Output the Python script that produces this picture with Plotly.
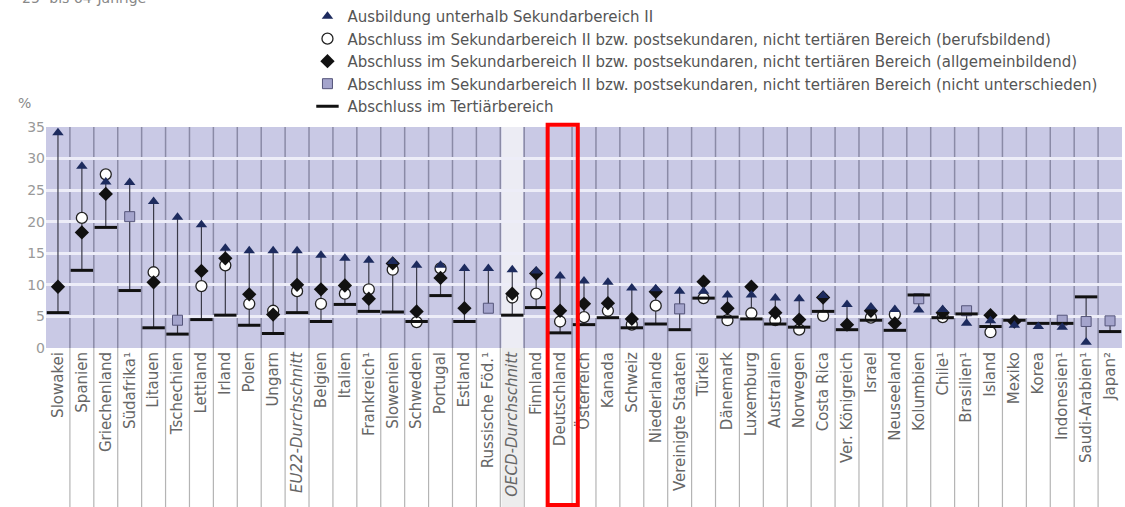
import plotly.graph_objects as go

# Länder / Kategorien (x-Achse)
laender = ['Slowakei', 'Spanien', 'Griechenland', 'Südafrika¹', 'Litauen', 'Tschechien',
           'Lettland', 'Irland', 'Polen', 'Ungarn', 'EU22-Durchschnitt', 'Belgien', 'Italien',
           'Frankreich¹', 'Slowenien', 'Schweden', 'Portugal', 'Estland', 'Russische Föd.¹',
           'OECD-Durchschnitt', 'Finnland', 'Deutschland', 'Österreich', 'Kanada', 'Schweiz',
           'Niederlande', 'Vereinigte Staaten', 'Türkei', 'Dänemark', 'Luxemburg', 'Australien',
           'Norwegen', 'Costa Rica', 'Ver. Königreich', 'Israel', 'Neuseeland', 'Kolumbien',
           'Chile¹', 'Brasilien¹', 'Island', 'Mexiko', 'Korea', 'Indonesien¹', 'Saudi-Arabien¹',
           'Japan²']

# Werte in %
unter_sek2 = [34.1, 28.8, 26.3, 26.2, 23.2, 20.7, 19.5, 15.8, 15.4, 15.4, 15.4, 14.7, 14.2,
              13.9, 13.7, 13.1, 13.1, 12.6, 12.6, 12.4, 12.2, 11.4, 10.6, 10.4, 9.5, 9.4, 9.0,
              9.0, 8.4, 8.4, 7.9, 7.8, 8.3, 6.9, 6.5, 6.1, 6.0, 6.1, 3.9, 4.3, 3.6, 3.4, 3.3,
              0.9, None]
berufsbildend = [None, 20.6, 27.5, None, 12.0, None, 9.8, 13.1, 7.0, 5.9, 9.0, 7.0, 8.6,
                 9.3, 12.4, 4.1, 12.6, None, None, 8.0, 8.6, 4.2, 4.9, 5.9, 3.7, 6.7, None,
                 7.9, 4.4, 5.5, 4.4, 2.9, 5.1, None, 4.8, 5.3, None, 4.9, None, 2.5, None,
                 None, None, None, None]
allgemeinbildend = [9.7, 18.3, 24.4, None, 10.4, None, 12.2, 14.2, 8.5, 5.3, 10.0, 9.3, 9.9,
                    7.8, 13.4, 5.8, 11.1, 6.3, None, 8.6, 11.8, 5.9, 7.0, 7.1, 4.6, 8.9, None,
                    10.5, 6.3, 9.7, 5.6, 4.5, 8.0, 3.7, 5.9, 3.9, None, 5.6, None, 5.2, 4.2,
                    None, None, None, None]
nicht_unterschieden = [None, None, None, 20.8, None, 4.4, None, None, None, None, None, None,
                       None, None, None, None, None, None, 6.3, None, None, None, None, None,
                       None, None, 6.2, None, None, None, None, None, None, None, None, None,
                       7.8, None, 5.9, None, None, None, 4.4, 4.2, 4.3]
tertiaer = [5.6, 12.3, 19.1, 9.1, 3.2, 2.2, 4.5, 5.2, 3.6, 2.3, 5.6, 4.2, 6.9, 5.8, 5.7, 4.2,
            8.3, 4.2, None, 5.2, 6.4, 2.4, 3.7, 4.8, 3.2, 3.8, 2.9, 7.9, 4.9, 4.6, 3.8, 3.3,
            5.8, 2.9, 4.4, 2.8, 8.4, 4.8, 5.4, 3.4, 4.4, 3.9, 3.9, 8.1, 2.6]

y_ticks = [0, 5, 10, 15, 20, 25, 30, 35]

legend_namen = [
    'Ausbildung unterhalb Sekundarbereich II',
    'Abschluss im Sekundarbereich II bzw. postsekundaren, nicht tertiären Bereich (berufsbildend)',
    'Abschluss im Sekundarbereich II bzw. postsekundaren, nicht tertiären Bereich (allgemeinbildend)',
    'Abschluss im Sekundarbereich II bzw. postsekundaren, nicht tertiären Bereich (nicht unterschieden)',
    'Abschluss im Tertiärbereich',
]

FONT = 'DejaVu Sans'
GRAU = '#666666'

# Tick-Beschriftungen (Durchschnitte kursiv)
tick_text = []
for name in laender:
    if 'Durchschnitt' in name:
        tick_text.append(f'<i>{name}</i>')
    else:
        tick_text.append(name)

# Verbindungslinien min -> max je Land
lx, ly = [], []
for i, name in enumerate(laender):
    vals = [s[i] for s in (unter_sek2, berufsbildend, allgemeinbildend, nicht_unterschieden, tertiaer)
            if s[i] is not None]
    lx += [name, name, None]
    ly += [min(vals), max(vals), None]

fig = go.Figure()

fig.add_trace(go.Scatter(
    x=lx, y=ly, mode='lines', showlegend=False, hoverinfo='skip',
    line=dict(color='#3a3a48', width=1.2),
))

# Zeichenreihenfolge: Kreis, Quadrat, Raute, Balken, Dreieck
fig.add_trace(go.Scatter(
    x=laender, y=berufsbildend, mode='markers', name=legend_namen[1], legendrank=2,
    legendgroup='b',
    marker=dict(symbol='circle', size=11, color='white', line=dict(color='#222', width=1.3)),
))
fig.add_trace(go.Scatter(
    x=laender, y=nicht_unterschieden, mode='markers', name=legend_namen[3], legendrank=4,
    legendgroup='d',
    marker=dict(symbol='square', size=10, color='#a4a4cc', line=dict(color='#55557a', width=1)),
))
fig.add_trace(go.Scatter(
    x=laender, y=allgemeinbildend, mode='markers', name=legend_namen[2], legendrank=3,
    legendgroup='c',
    marker=dict(symbol='diamond', size=11, color='#111111'),
))
fig.add_trace(go.Scatter(
    x=laender, y=tertiaer, mode='markers', name=legend_namen[4], legendrank=5,
    legendgroup='e',
    marker=dict(symbol='line-ew', size=16, color='#111111', line=dict(color='#111111', width=3)),
))
fig.add_trace(go.Scatter(
    x=laender, y=unter_sek2, mode='markers', name=legend_namen[0], legendrank=1,
    legendgroup='a',
    marker=dict(symbol='triangle-up', size=10, color='#1d2b5e'),
))

# Trennlinien zwischen den Ländern
shapes = []
n = len(laender)
for i in range(n - 1):
    shapes.append(dict(type='line', xref='x', yref='paper', x0=i + 0.5, x1=i + 0.5,
                       y0=0, y1=1, line=dict(color='#8a8aa6', width=1.5), layer='between'))
    shapes.append(dict(type='line', xref='x', yref='paper', x0=i + 0.5, x1=i + 0.5,
                       y0=-0.72, y1=0, line=dict(color='#b4b4b4', width=1.2), layer='below'))

# OECD-Durchschnitt hervorgehoben
oecd = laender.index('OECD-Durchschnitt')
shapes.append(dict(type='rect', xref='x', yref='paper', x0=oecd - 0.45, x1=oecd + 0.45,
                   y0=0, y1=1, fillcolor='#ececf4', line_width=0, layer='below'))
shapes.append(dict(type='rect', xref='x', yref='paper', x0=oecd - 0.45, x1=oecd + 0.45,
                   y0=-0.72, y1=0, fillcolor='#ededed', line_width=0, layer='below'))

# Rote Markierung Deutschland
de = laender.index('Deutschland')
shapes.append(dict(type='rect', xref='x', yref='paper', x0=de - 0.52, x1=de + 0.74,
                   y0=-0.71, y1=1.01, line=dict(color='#ff0000', width=4), layer='above'))

fig.update_layout(
    width=1125, height=507,
    margin=dict(l=46, r=3, t=127, b=159, autoexpand=False),
    plot_bgcolor='#c9c9e5', paper_bgcolor='white',
    font=dict(family=FONT, size=14, color=GRAU),
    shapes=shapes,
    showlegend=True,
    legend=dict(
        x=0.243, xanchor='left', y=1.575, yanchor='top',
        font=dict(family=FONT, size=15, color='#555555'),
        bgcolor='rgba(0,0,0,0)', tracegroupgap=0, itemclick=False,
    ),
    annotations=[
        dict(text='%', xref='paper', yref='paper', x=-0.02, y=1.11, xanchor='center',
             yanchor='middle', showarrow=False, font=dict(family=FONT, size=14, color='#888')),
        dict(text='25- bis 64-Jährige', xref='paper', yref='paper', x=-0.024, y=1.585,
             xanchor='left', yanchor='middle', showarrow=False,
             font=dict(family=FONT, size=14, color='#888')),
    ],
)

fig.update_xaxes(
    type='category', categoryorder='array', categoryarray=laender,
    tickmode='array', tickvals=laender, ticktext=tick_text, tickangle=-90,
    tickfont=dict(family=FONT, size=15, color=GRAU),
    showgrid=False, zeroline=False, showline=False, ticks='',
    range=[-0.5, n - 0.5], automargin=False,
)
fig.update_yaxes(
    range=[0, 35], tickvals=y_ticks,
    tickfont=dict(family=FONT, size=14, color='#999999'),
    showgrid=True, gridcolor='#ededf8', gridwidth=3,
    zeroline=False, showline=False, ticks='', automargin=False,
)

fig.write_html('out.html', config={'displayModeBar': False},
               post_script="document.body.style.margin='0';document.body.style.overflow='hidden';")
